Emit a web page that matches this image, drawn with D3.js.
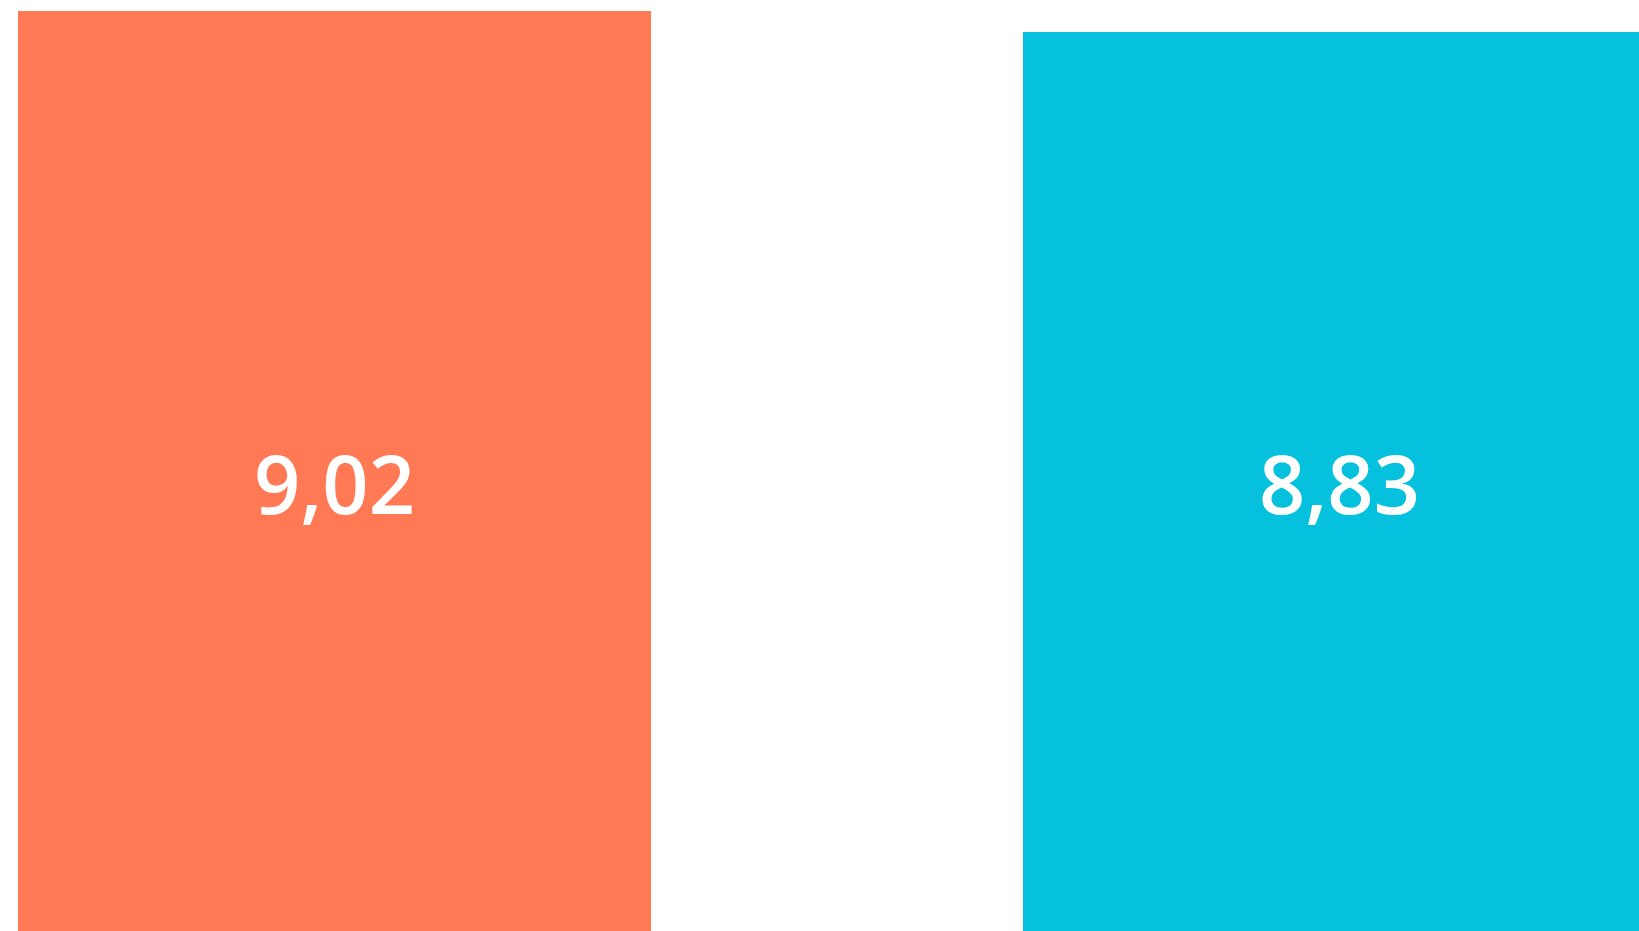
<!doctype html>
<html>
  <head>
    <script src="https://cdnjs.cloudflare.com/ajax/libs/d3/7.8.5/d3.min.js"></script>
    <style>
      body { margin: 0; background: #fff; overflow: hidden; }
      text.value {
        fill: #fff;
        font-family: "Open Sans", sans-serif;
        font-weight: 600;
        font-size: 81px;
        text-anchor: middle;
      }
    </style>
  </head>
  <body>
    <div id="chart"></div>
    <script>
      var categories = ["A", "B"]
      var values = [9.02, 8.83]
      var labels = ["9,02", "8,83"]
      var colors = ["#FF7955", "#06C1DE"]

      var width = 1639
      var height = 931

      var svg = d3.select("#chart")
        .append("svg")
          .attr("width", width)
          .attr("height", height)

      // second bar runs off the right edge, both run off the bottom
      var x = d3.scaleBand()
        .domain(categories)
        .range([18, 1656])
        .paddingInner(372 / 1005)
        .paddingOuter(0)

      var y = d3.scaleLinear()
        .domain([0, 9.02])
        .range([1008, 11])

      svg.selectAll("rect.bar")
        .data(values)
        .enter()
        .append("rect")
          .attr("class", "bar")
          .attr("x", (d, i) => x(categories[i]))
          .attr("width", x.bandwidth())
          .attr("y", d => y(d))
          .attr("height", d => y(0) - y(d))
          .style("fill", (d, i) => colors[i])

      svg.selectAll("text.value")
        .data(values)
        .enter()
        .append("text")
          .attr("class", "value")
          .attr("x", (d, i) => x(categories[i]) + x.bandwidth() / 2)
          .attr("y", 514)
          .text((d, i) => labels[i])
    </script>
  </body>
</html>
